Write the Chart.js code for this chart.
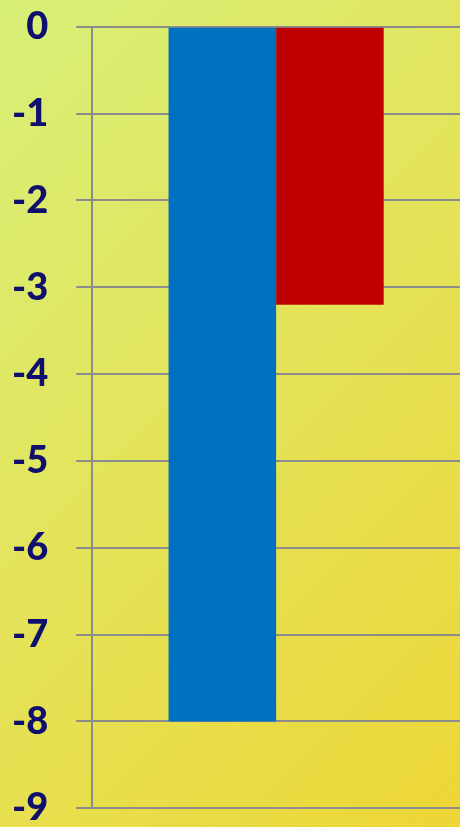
<!DOCTYPE html>
<html>
<head>
<meta charset="utf-8">
<script src="https://cdn.jsdelivr.net/npm/chart.js@4"></script>
<style>
html,body{margin:0;padding:0;}
body{width:460px;height:827px;overflow:hidden;background:linear-gradient(135deg,#d8ef78 0%,#e3e45c 45%,#edd636 100%);}
#wrap{position:absolute;left:-26px;top:-24px;width:486px;height:883px;}
</style>
</head>
<body>
<div id="wrap"><canvas id="c"></canvas></div>
<script>
const categories = [""];
const seriesA = [-8];
const seriesB = [-3.2];
const yMin = -9, yMax = 0, yStep = 1;

new Chart(document.getElementById('c'), {
  type: 'bar',
  data: {
    labels: categories,
    datasets: [
      {label: 'A', data: seriesA, backgroundColor: '#0070c0', barPercentage: 1, categoryPercentage: 0.585},
      {label: 'B', data: seriesB, backgroundColor: '#c00000', barPercentage: 1, categoryPercentage: 0.585}
    ]
  },
  options: {
    responsive: true,
    maintainAspectRatio: false,
    animation: false,
    layout: {padding: {top: 10, left: 10, right: 0, bottom: 0}},
    plugins: {legend: {display: false}, tooltip: {enabled: false}},
    scales: {
      x: {display: false},
      y: {
        min: yMin, max: yMax,
        ticks: {stepSize: yStep, color: '#0f0f6e', padding: 28,
          font: {family: 'Lato', weight: 900, size: 38}},
        grid: {color: '#8c8c8c', lineWidth: 2, tickLength: 16},
        border: {color: '#8c8c8c', width: 2}
      }
    }
  }
});
</script>
</body>
</html>
